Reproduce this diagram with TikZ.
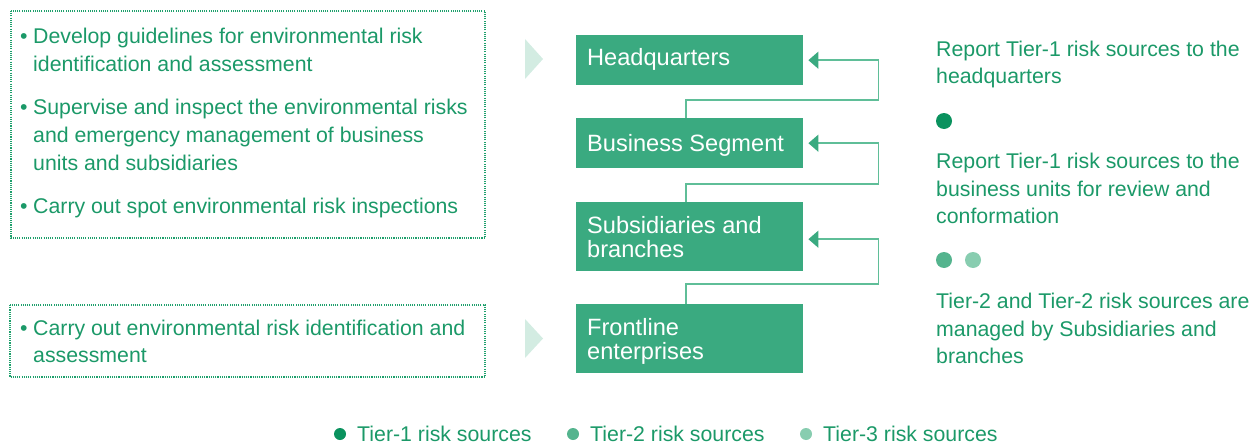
\documentclass[tikz,border=0pt]{standalone}
\usepackage{fontspec}
\setmainfont{Liberation Sans}
\usetikzlibrary{arrows.meta}
\definecolor{txtgreen}{RGB}{27,153,104}
\definecolor{boxgreen}{RGB}{58,170,128}
\definecolor{chev}{RGB}{211,236,226}
\definecolor{linegreen}{RGB}{95,190,152}
\definecolor{dotone}{RGB}{10,146,94}
\definecolor{dottwo}{RGB}{84,180,142}
\definecolor{dotthree}{RGB}{136,205,176}
\definecolor{bordergreen}{RGB}{30,160,108}
\tikzset{
  side/.style={anchor=base west, inner sep=0pt, text=txtgreen, font=\fontsize{21.3}{28}\selectfont},
  boxtxt/.style={anchor=base west, inner sep=0pt, text=white, font=\fontsize{23.6}{24}\selectfont},
  levelbox/.style={fill=boxgreen, draw=none, inner sep=0pt, minimum width=227pt, anchor=north west},
  frame/.style={draw=bordergreen, line width=1.1pt, dash pattern=on 1.1pt off 1.1pt},
  conn/.style={draw=linegreen, line width=1.5pt, -{Triangle[length=10pt,width=17pt,color=boxgreen]}},
  chevron/.style={fill=chev, draw=none},
}
\begin{document}
\begin{tikzpicture}[x=1pt,y=-1pt]
\useasboundingbox (0,0) rectangle (1253,444);

% dotted frames
\draw[frame] (11,11) rectangle (485,238);
\draw[frame] (10,305) rectangle (485,377);

% left texts (top frame)
\node[side] (b1) at (20,44) {•};
\node[side] (t1a) at (33,44) {Develop guidelines for environmental risk};
\node[side] (t1b) at (33,72) {identification and assessment};
\node[side] (b2) at (20,114) {•};
\node[side] (t2a) at (33,114) {Supervise and inspect the environmental risks};
\node[side] (t2b) at (33,142) {and emergency management of business};
\node[side] (t2c) at (33,170) {units and subsidiaries};
\node[side] (b3) at (20,213) {•};
\node[side] (t3a) at (33,213) {Carry out spot environmental risk inspections};
% bottom frame
\node[side] (b4) at (20,335) {•};
\node[side] (t4a) at (33,335) {Carry out environmental risk identification and};
\node[side] (t4b) at (33,362) {assessment};

% chevrons
\fill[chevron] (525,39) -- (543,59) -- (525,79) -- cycle;
\fill[chevron] (525,319) -- (543,338.5) -- (525,358) -- cycle;

% level boxes
\node[levelbox, minimum height=50pt] (hq) at (576,35) {};
\node[levelbox, minimum height=50pt] (bs) at (576,118) {};
\node[levelbox, minimum height=69pt] (sb) at (576,202) {};
\node[levelbox, minimum height=69pt] (fe) at (576,304) {};

\node[boxtxt] (hqt) at (587,66) {Headquarters};
\node[boxtxt] (bst) at (587,151) {Business Segment};
\node[boxtxt] (sbt1) at (587,233) {Subsidiaries and};
\node[boxtxt] (sbt2) at (587,257) {branches};
\node[boxtxt] (fet1) at (587,335) {Frontline};
\node[boxtxt] (fet2) at (587,359) {enterprises};

% connectors
\draw[conn] ([xshift=-3.5pt]bs.north) -- ++(0,-18) -| ([xshift=75pt]hq.east) -- ([xshift=5pt]hq.east);
\draw[conn] ([xshift=-3.5pt]sb.north) -- ++(0,-18) -| ([xshift=75pt]bs.east) -- ([xshift=5pt]bs.east);
\draw[conn] ([xshift=-3.5pt]fe.north) -- ++(0,-20) -| ([xshift=75pt,yshift=-2.5pt]sb.east) -- ([xshift=5pt,yshift=-2.5pt]sb.east);

% right texts
\node[side] (r1a) at (936,57) {Report Tier-1 risk sources to the};
\node[side] (r1b) at (936,84) {headquarters};
\fill[dotone] (944,121) circle (8);
\node[side] (r2a) at (936,168) {Report Tier-1 risk sources to the};
\node[side] (r2b) at (936,196) {business units for review and};
\node[side] (r2c) at (936,223) {conformation};
\fill[dottwo] (944,260) circle (8);
\fill[dotthree] (973,260) circle (8);
\node[side] (r3a) at (936,308) {Tier-2 and Tier-2 risk sources are};
\node[side] (r3b) at (936,336) {managed by Subsidiaries and};
\node[side] (r3c) at (936,363) {branches};

% legend
\fill[dotone] (340,434) circle (6);
\node[side] (l1) at (357,441) {Tier-1 risk sources};
\fill[dottwo] (573,434) circle (6);
\node[side] (l2) at (590,441) {Tier-2 risk sources};
\fill[dotthree] (806,434) circle (6);
\node[side] (l3) at (823,441) {Tier-3 risk sources};
\end{tikzpicture}
\end{document}
